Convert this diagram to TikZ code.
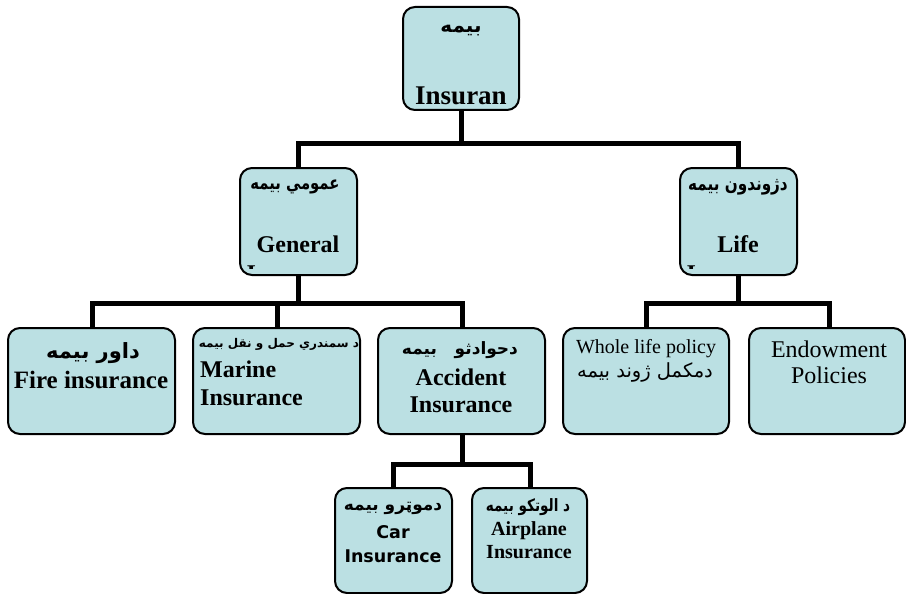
\documentclass[tikz,border=0pt]{standalone}
\usepackage{fontspec}
\setmainfont{Liberation Serif}
\newfontfamily\arabicfont[Script=Arabic]{DejaVu Sans}
\newfontfamily\arabicnarrow[Script=Arabic,FakeStretch=0.8]{DejaVu Sans}
\newfontfamily\verdfont{DejaVu Sans}
\TeXXeTstate=1
\usepackage{tikz}
\usetikzlibrary{positioning}

\definecolor{boxfill}{RGB}{187,224,227}

\newcommand{\fs}[1]{\fontsize{#1}{#1}\selectfont}

\tikzset{
  box/.style={draw, line width=2pt, fill=boxfill, rounded corners=12pt, inner sep=0pt},
  conn/.style={line width=5pt},
  txt/.style={inner sep=0pt, anchor=base},
  ps/.style={inner sep=0pt, font=\arabicfont\bfseries\fs{#1}},
  psn/.style={inner sep=0pt, font=\arabicnarrow\bfseries\fs{#1}},
  psr/.style={inner sep=0pt, font=\arabicfont\fs{#1}},
}

\begin{document}
\begin{tikzpicture}[x=1pt, y=-1pt]

  \useasboundingbox (0,0) rectangle (906,594);

  % Connect the nodes (drawn first, boxes on top)
  \coordinate (insb) at (461,110);
  \coordinate (genb) at (298,275);
  \coordinate (lifeb) at (738,275);
  \coordinate (accb) at (462,434);
  \draw[conn] (insb) -- ++(0,33) -| (298,168);
  \draw[conn] (insb) -- ++(0,33) -| (738,168);
  \draw[conn] (genb) -- ++(0,28) -| (92,328);
  \draw[conn] (genb) -- ++(0,28) -| (277,328);
  \draw[conn] (genb) -- ++(0,28) -| (462,328);
  \draw[conn] (lifeb) -- ++(0,28) -| (646,328);
  \draw[conn] (lifeb) -- ++(0,28) -| (829,328);
  \draw[conn] (accb) -- ++(0,30) -| (393,488);
  \draw[conn] (accb) -- ++(0,30) -| (530,488);

  % Define nodes
  \node[box, minimum width=116, minimum height=103] (ins) at (461,58.5) {};
  \node[box, minimum width=117, minimum height=107] (gen) at (298.5,221.5) {};
  \node[box, minimum width=117, minimum height=107] (life) at (738.5,221.5) {};
  \node[box, minimum width=167, minimum height=106] (fire) at (91.5,381) {};
  \node[box, minimum width=167, minimum height=106] (marine) at (276.5,381) {};
  \node[box, minimum width=167, minimum height=106] (acc) at (461.5,381) {};
  \node[box, minimum width=166, minimum height=106] (whole) at (646,381) {};
  \node[box, minimum width=156, minimum height=106] (endow) at (827,381) {};
  \node[box, minimum width=117, minimum height=105] (car) at (393.5,540.5) {};
  \node[box, minimum width=115, minimum height=105] (air) at (529.5,540.5) {};

  % Texts
  \node[ps=20] (insar) at (461,31) {\beginR بيمه\endR};
  \node[txt, font=\bfseries\fs{27}] (insen) at (461,105) {Insuran};

  \node[psn=18.5] (genar) at (295,187) {\beginR عمومي بيمه\endR};
  \node[txt, font=\bfseries\fs{24}] (genen) at (298,252) {General};
  \node[psn=19] (lifear) at (738,187) {\beginR دژوندون بيمه\endR};
  \node[txt, font=\bfseries\fs{24}] (lifeen) at (738,252) {Life};
  \begin{scope}
    \clip (240,168) rectangle (357,268);
    \node[txt, font=\bfseries\fs{24}] (genfrag) at (298,281) {Insurance};
  \end{scope}
  \begin{scope}
    \clip (680,168) rectangle (797,268);
    \node[txt, font=\bfseries\fs{24}] (lifefrag) at (738,281) {Insurance};
  \end{scope}

  \node[ps=21] (firear) at (93,353) {\beginR داور بيمه\endR};
  \node[txt, font=\bfseries\fs{25}] (fireen) at (91,388) {Fire insurance};

  \node[ps=12] (marinear) at (279,344) {\beginR د سمندري حمل و نقل بيمه\endR};
  \node[txt, anchor=base west, font=\bfseries\fs{24}] (marineen) at (200,377) {Marine};
  \node[txt, anchor=base west, font=\bfseries\fs{24}] (marineins) at (200,405) {Insurance};

  \node[ps=17] (accar) at (460,350) {\beginR دحوادثو\ \ \ بيمه\endR};
  \node[txt, font=\bfseries\fs{24}] (accen) at (461,385) {Accident};
  \node[txt, font=\bfseries\fs{24}] (accins) at (461,412) {Insurance};

  \node[txt, font=\fs{20}] (wholeen) at (646,353) {Whole life policy};
  \node[psr=19.5] (wholear) at (645,372) {\beginR دمکمل ژوند بيمه\endR};

  \node[txt, font=\fs{24}] (endowen) at (829,357) {Endowment};
  \node[txt, font=\fs{24}] (endowpol) at (829,383) {Policies};

  \node[ps=17] (carar) at (393,508) {\beginR دموټرو بيمه\endR};
  \node[txt, font=\verdfont\bfseries\fs{17.5}] (caren) at (393,538) {Car};
  \node[txt, font=\verdfont\bfseries\fs{17.5}] (carins) at (393,562) {Insurance};

  \node[psn=17] (airar) at (528,507) {\beginR د الوتکو بيمه\endR};
  \node[txt, font=\bfseries\fs{20}] (airen) at (529,535) {Airplane};
  \node[txt, font=\bfseries\fs{20}] (airins) at (529,558) {Insurance};

\end{tikzpicture}
\end{document}
